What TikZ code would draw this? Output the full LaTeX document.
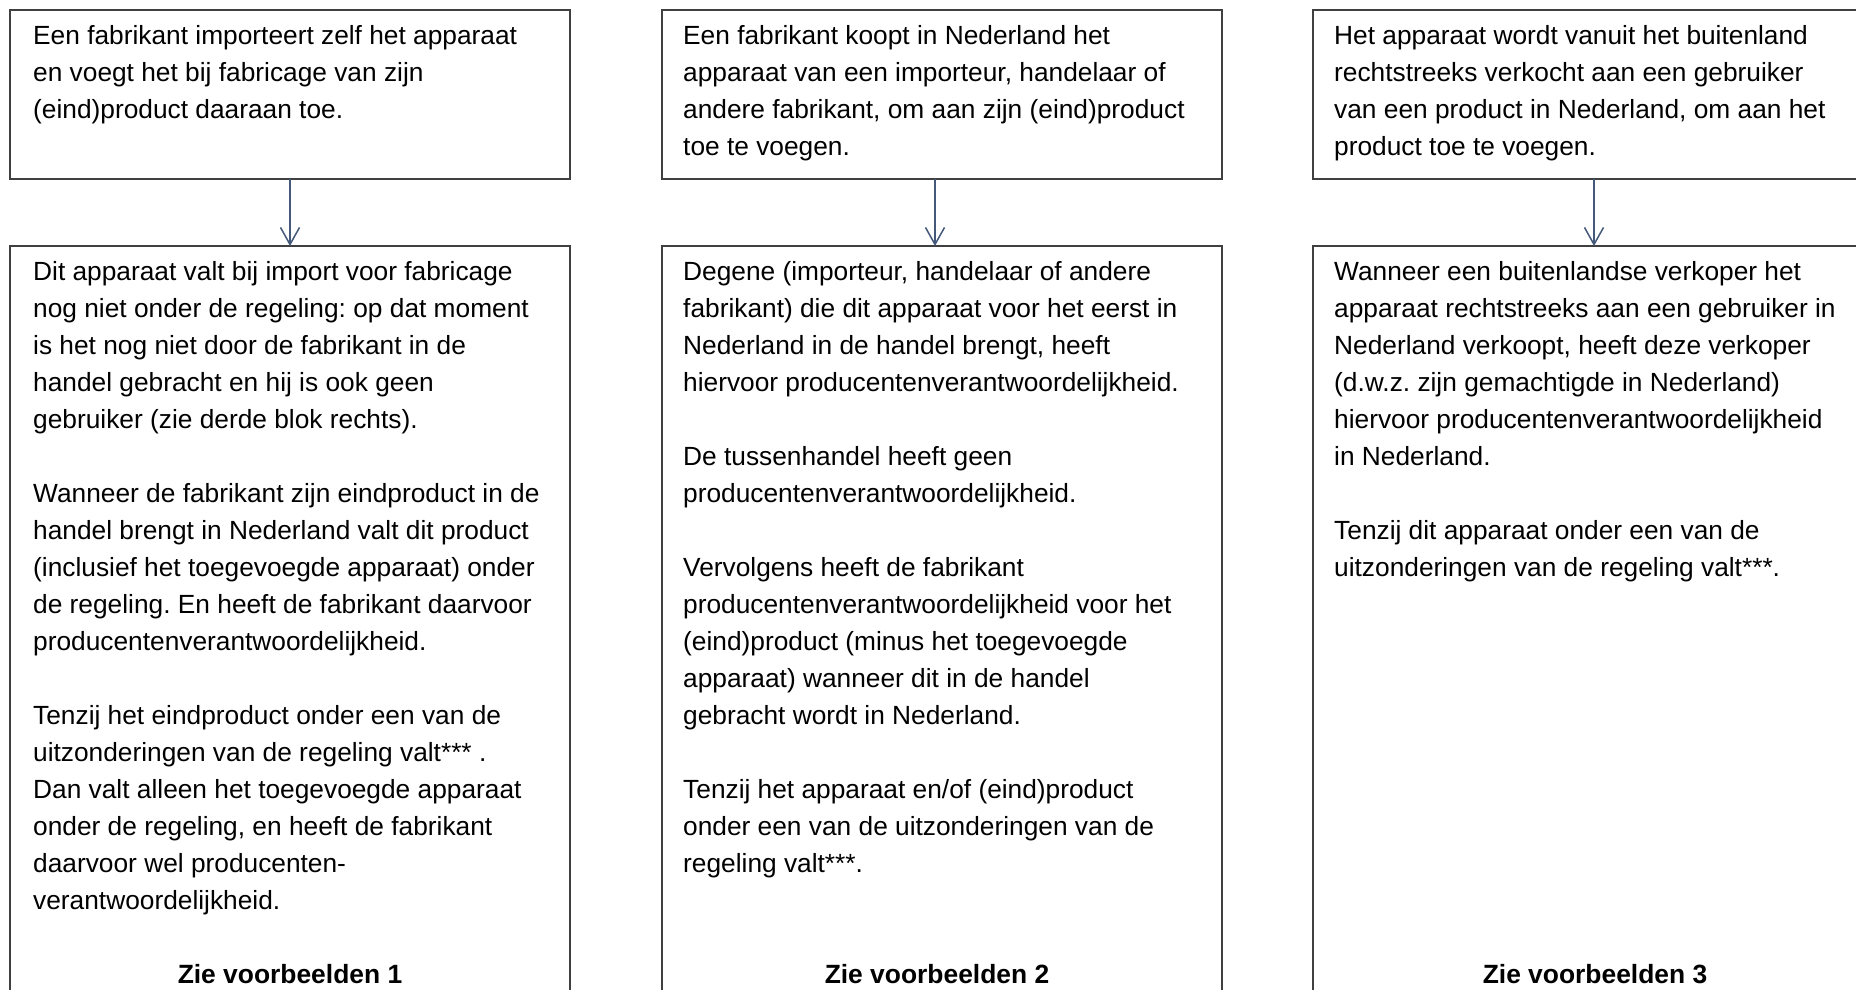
\documentclass[tikz,border=0pt]{standalone}
\usepackage{fontspec}
\setmainfont{Liberation Sans}
\usetikzlibrary{arrows.meta}
\definecolor{boxline}{RGB}{64,64,64}
\definecolor{arrowcol}{RGB}{68,88,122}
\newcommand\textlines[1]{\begin{tabular}[t]{@{}l@{}}#1\end{tabular}}
\frenchspacing
\begin{document}
\begin{tikzpicture}[x=1pt,y=-1pt,
  box/.style={draw=boxline, line width=1.6pt, inner sep=0pt, outer sep=0pt, anchor=north west, fill=none},
  txt/.style={anchor=base west, inner sep=0pt, font=\fontsize{26.3}{37}\selectfont\frenchspacing},
  foot/.style={anchor=base, inner sep=0pt, font=\fontsize{26.4}{37}\selectfont\bfseries},
  arr/.style={draw=arrowcol, line width=1.5pt, -{Straight Barb[length=17pt,width=19pt,line width=1.5pt]}}]
\useasboundingbox (0,0) rectangle (1856,989);
\fill[white] (0,0) rectangle (1856,989);
\clip (0,0) rectangle (1856,989);

% top boxes
\node[box, minimum width=560pt, minimum height=169pt] (t1) at (10,10) {};
\node[box, minimum width=560pt, minimum height=169pt] (t2) at (662,10) {};
\node[box, minimum width=562pt, minimum height=169pt] (t3) at (1313,10) {};

% bottom boxes (run past the lower edge)
\node[box, minimum width=560pt, minimum height=800pt] (b1) at (10,246) {};
\node[box, minimum width=560pt, minimum height=800pt] (b2) at (662,246) {};
\node[box, minimum width=562pt, minimum height=800pt] (b3) at (1313,246) {};

% top texts
\node[txt] (tt1) at (33,44) {\textlines{Een fabrikant importeert zelf het apparaat\\en voegt het bij fabricage van zijn\\(eind)product daaraan toe.}};
\node[txt] (tt2) at (683,44) {\textlines{Een fabrikant koopt in Nederland het\\apparaat van een importeur, handelaar of\\andere fabrikant, om aan zijn (eind)product\\toe te voegen.}};
\node[txt] (tt3) at (1334,44) {\textlines{Het apparaat wordt vanuit het buitenland\\rechtstreeks verkocht aan een gebruiker\\van een product in Nederland, om aan het\\product toe te voegen.}};

% bottom texts
\node[txt] (bt1) at (33,280) {\textlines{Dit apparaat valt bij import voor fabricage\\nog niet onder de regeling: op dat moment\\is het nog niet door de fabrikant in de\\handel gebracht en hij is ook geen\\gebruiker (zie derde blok rechts).\\ \\Wanneer de fabrikant zijn eindproduct in de\\handel brengt in Nederland valt dit product\\(inclusief het toegevoegde apparaat) onder\\de regeling. En heeft de fabrikant daarvoor\\producentenverantwoordelijkheid.\\ \\Tenzij het eindproduct onder een van de\\uitzonderingen van de regeling valt*** .\\Dan valt alleen het toegevoegde apparaat\\onder de regeling, en heeft de fabrikant\\daarvoor wel producenten-\\verantwoordelijkheid.}};
\node[txt] (bt2) at (683,280) {\textlines{Degene (importeur, handelaar of andere\\fabrikant) die dit apparaat voor het eerst in\\Nederland in de handel brengt, heeft\\hiervoor producentenverantwoordelijkheid.\\ \\De tussenhandel heeft geen\\producentenverantwoordelijkheid.\\ \\Vervolgens heeft de fabrikant\\producentenverantwoordelijkheid voor het\\(eind)product (minus het toegevoegde\\apparaat) wanneer dit in de handel\\gebracht wordt in Nederland.\\ \\Tenzij het apparaat en/of (eind)product\\onder een van de uitzonderingen van de\\regeling valt***.}};
\node[txt] (bt3) at (1334,280) {\textlines{Wanneer een buitenlandse verkoper het\\apparaat rechtstreeks aan een gebruiker in\\Nederland verkoopt, heeft deze verkoper\\(d.w.z. zijn gemachtigde in Nederland)\\hiervoor producentenverantwoordelijkheid\\in Nederland.\\ \\Tenzij dit apparaat onder een van de\\uitzonderingen van de regeling valt***.}};

% footers
\node[foot] (f1) at (290,983) {Zie voorbeelden 1};
\node[foot] (f2) at (937,983) {Zie voorbeelden 2};
\node[foot] (f3) at (1595,983) {Zie voorbeelden 3};

% arrows
\draw[arr] (t1.south) -- (b1.north);
\draw[arr] ([xshift=-7pt]t2.south) -- ([xshift=-7pt]b2.north);
\draw[arr] (t3.south) -- (b3.north);
\end{tikzpicture}
\end{document}
